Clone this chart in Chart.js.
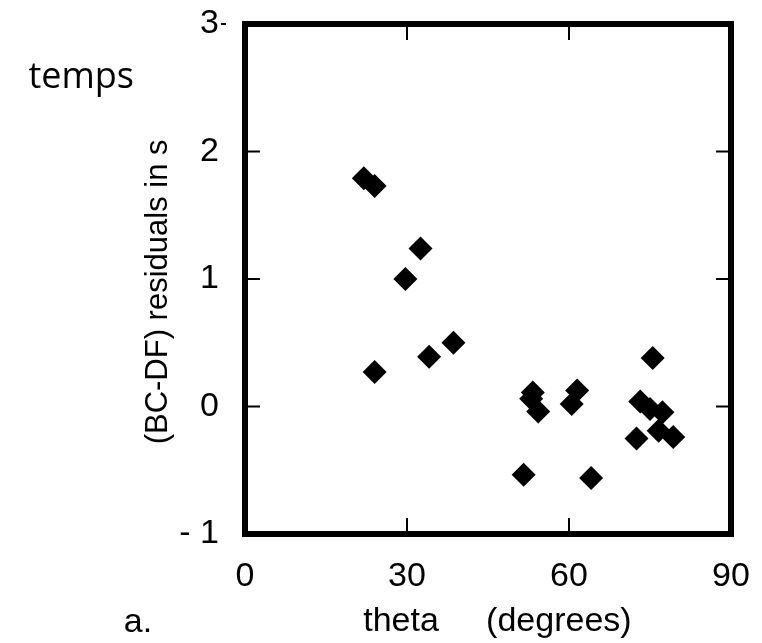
<!DOCTYPE html>
<html>
<head>
<meta charset="utf-8">
<script src="https://cdn.jsdelivr.net/npm/chart.js@4.4.1/dist/chart.umd.min.js"></script>
<style>
  html, body { margin: 0; padding: 0; background: #fff; }
  #wrap { width: 762px; height: 643px; }
</style>
</head>
<body>
<div id="wrap"><canvas id="myChart" width="762" height="643"></canvas></div>
<script>
// theta (degrees) vs (BC-DF) residuals (s)
const thetaDeg = [22.0, 24.0, 32.5, 29.7, 24.0, 34.1, 38.6, 53.3, 53.0, 54.3, 61.5,
  60.5, 51.6, 64.1, 75.5, 73.2, 75.0, 77.3, 72.5, 76.6, 79.3];
const residuals = [1.79, 1.73, 1.24, 1.0, 0.27, 0.39, 0.50, 0.11, 0.06, -0.04, 0.125,
  0.02, -0.535, -0.56, 0.38, 0.04, -0.02, -0.045, -0.25, -0.19, -0.24];
const xTickValues = [0, 30, 60, 90];
const yTickValues = [-1, 0, 1, 2, 3];
const innerXTicks = [30, 60];
const innerYTicks = [0, 1, 2];

const points = thetaDeg.map((t, i) => ({ x: t, y: residuals[i] }));
const helv = '"Liberation Sans", Arial, Helvetica, sans-serif';

// box round the plot with short inward ticks, plus the loose labels
const framePlugin = {
  id: 'frame',
  afterDraw(chart) {
    const { ctx, chartArea: a, scales } = chart;
    const x = scales.x;
    const y = scales.y;
    ctx.save();
    ctx.strokeStyle = '#000';
    ctx.lineWidth = 2;
    ctx.beginPath();
    innerXTicks.forEach(v => {
      const px = x.getPixelForValue(v);
      ctx.moveTo(px, a.top); ctx.lineTo(px, a.top + 16);
      ctx.moveTo(px, a.bottom); ctx.lineTo(px, a.bottom - 16);
    });
    innerYTicks.forEach(v => {
      const py = y.getPixelForValue(v);
      ctx.moveTo(a.left, py); ctx.lineTo(a.left + 15, py);
      ctx.moveTo(a.right, py); ctx.lineTo(a.right - 15, py);
    });
    // tiny outer dash next to the top label
    const p3 = y.getPixelForValue(3);
    ctx.moveTo(a.left - 24, p3); ctx.lineTo(a.left - 19, p3);
    ctx.stroke();
    ctx.lineWidth = 6;
    ctx.strokeRect(a.left, a.top, a.right - a.left, a.bottom - a.top);

    ctx.fillStyle = '#000';
    ctx.textBaseline = 'alphabetic';
    ctx.font = '34px ' + helv;
    ctx.textAlign = 'center';
    ctx.fillText('a.', 138, 632);
    ctx.font = '36px "Open Sans", "Noto Sans", sans-serif';
    ctx.textAlign = 'right';
    ctx.fillText('temps', 134, 88);
    ctx.restore();
  }
};

const myChart = new Chart(document.getElementById('myChart'), {
  type: 'scatter',
  data: {
    datasets: [{
      data: points,
      pointStyle: 'rectRot',
      pointRadius: 12,
      pointHoverRadius: 12,
      backgroundColor: '#000',
      borderColor: '#000',
      borderWidth: 0
    }]
  },
  options: {
    responsive: false,
    animation: false,
    devicePixelRatio: 1,
    layout: { padding: { left: 0, top: 24, right: 31, bottom: 0 } },
    plugins: {
      legend: { display: false },
      tooltip: { enabled: false }
    },
    scales: {
      x: {
        type: 'linear',
        min: 0,
        max: 90,
        afterBuildTicks: s => { s.ticks = xTickValues.map(v => ({ value: v })); },
        afterFit: s => { s.height = 109; s.paddingLeft = 0; s.paddingRight = 0; },
        grid: { display: false, drawTicks: false },
        border: { display: false },
        ticks: {
          color: '#000',
          padding: 22,
          font: { family: helv, size: 34 },
          maxRotation: 0
        },
        title: {
          display: true,
          text: '  theta     (degrees)',
          color: '#000',
          font: { family: helv, size: 34 },
          padding: { top: 0, bottom: 1 }
        }
      },
      y: {
        type: 'linear',
        min: -1,
        max: 3,
        afterBuildTicks: s => { s.ticks = yTickValues.map(v => ({ value: v })); },
        afterFit: s => { s.width = 245; s.paddingTop = 0; s.paddingBottom = 0; },
        grid: { display: false, drawTicks: false },
        border: { display: false },
        ticks: {
          color: '#000',
          padding: 26,
          font: { family: helv, size: 34 },
          callback: v => (v < 0 ? '- ' + Math.abs(v) : String(v))
        },
        title: {
          display: true,
          text: '(BC-DF) residuals in s   ',
          color: '#000',
          font: { family: helv, size: 31 },
          padding: { top: 140, bottom: 0 }
        }
      }
    }
  },
  plugins: [framePlugin]
});
</script>
</body>
</html>
